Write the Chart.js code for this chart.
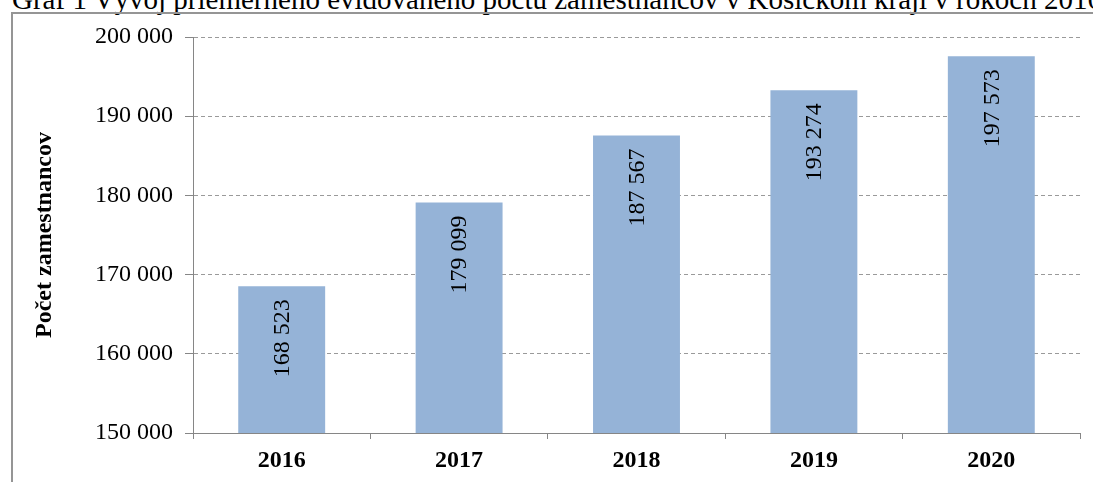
<!DOCTYPE html>
<html>
<head>
<meta charset="utf-8">
<script src="https://cdn.jsdelivr.net/npm/chart.js@4"></script>
<style>
    html, body { margin: 0; padding: 0; background: #fff; overflow: hidden; }
    body { width: 1093px; height: 482px; position: relative; }
    #title {
        position: absolute; left: 12px; top: -15px;
        font: 29px "Liberation Serif", "Times New Roman", serif;
        line-height: 29px; white-space: nowrap; color: #000;
    }
    #frame {
        position: absolute; left: 11px; top: 12px; width: 2000px; height: 1000px;
        border-left: 2px solid #959595; border-top: 2px solid #959595;
    }
    #wrap { position: absolute; left: 0; top: 0; width: 1093px; height: 482px; }
</style>
</head>
<body>
<div id="title">Graf 1 Vývoj priemerného evidovaného počtu zamestnancov v Košickom kraji v rokoch 2016 – 2020</div>
<div id="frame"></div>
<div id="wrap"><canvas id="myChart" width="1093" height="482"></canvas></div>
<script>
// hodnoty z grafu
const years = ['2016', '2017', '2018', '2019', '2020'];
const employees = [168523, 179099, 187567, 193274, 197573];
const yTicks = [150000, 160000, 170000, 180000, 190000, 200000];

function fmt(v) {
    return String(v).replace(/\B(?=(\d{3})+(?!\d))/g, ' ');
}

// popisky hodnot otocene v stlpcoch
const barLabels = {
    id: 'barLabels',
    afterDatasetsDraw(chart) {
        const ctx = chart.ctx;
        const meta = chart.getDatasetMeta(0);
        ctx.save();
        ctx.font = '24px "Liberation Serif", "Times New Roman", serif';
        ctx.fillStyle = '#000';
        ctx.textAlign = 'right';
        ctx.textBaseline = 'middle';
        meta.data.forEach((bar, i) => {
            ctx.save();
            ctx.translate(bar.x + 1, bar.y + 13);
            ctx.rotate(-Math.PI / 2);
            ctx.fillText(fmt(employees[i]), 0, 0);
            ctx.restore();
        });
        ctx.restore();
    }
};

var ctx = document.getElementById('myChart');
var myChart = new Chart(ctx, {
    type: 'bar',
    data: {
        labels: years,
        datasets: [{
            data: employees,
            backgroundColor: '#95B3D7',
            borderWidth: 0,
            barPercentage: 0.49,
            categoryPercentage: 1
        }]
    },
    options: {
        responsive: false,
        animation: false,
        layout: {
            padding: {left: 26, top: 37, right: 13, bottom: 0}
        },
        plugins: {
            legend: {display: false},
            tooltip: {enabled: false}
        },
        scales: {
            x: {
                offset: true,
                grid: {
                    offset: true,
                    drawOnChartArea: false,
                    drawTicks: true,
                    tickLength: 6,
                    color: '#868686'
                },
                border: {color: '#868686', width: 1},
                ticks: {
                    color: '#000',
                    padding: 7,
                    font: {family: '"Liberation Serif", "Times New Roman", serif', size: 24, weight: 'bold'}
                },
                afterFit(scale) {
                    scale.height = 49;
                }
            },
            y: {
                min: 150000,
                max: 200000,
                afterBuildTicks(scale) {
                    scale.ticks = yTicks.map(v => ({value: v}));
                },
                grid: {
                    color: '#9a9a9a',
                    tickColor: '#868686',
                    tickLength: 8,
                    lineWidth: 1
                },
                border: {color: '#868686', width: 1, dash: [4, 3]},
                ticks: {
                    color: '#000',
                    padding: 12,
                    font: {family: '"Liberation Serif", "Times New Roman", serif', size: 24},
                    callback: (v) => fmt(v)
                },
                title: {
                    display: true,
                    text: 'Počet zamestnancov',
                    color: '#000',
                    padding: {top: 4, bottom: 4},
                    font: {family: '"Liberation Serif", "Times New Roman", serif', size: 24, weight: 'bold'}
                },
                afterFit(scale) {
                    scale.width = 167;
                }
            }
        }
    },
    plugins: [barLabels]
});
</script>
</body>
</html>
